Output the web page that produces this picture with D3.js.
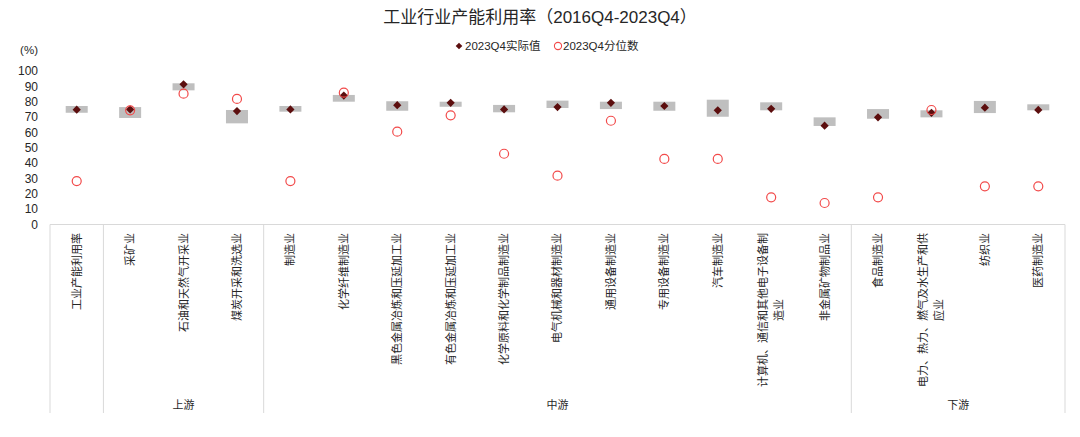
<!DOCTYPE html>
<html>
<head>
<meta charset="utf-8">
<script src="https://cdn.jsdelivr.net/npm/d3@7"></script>
<style>
  body { margin: 0; background: #fff; }
  svg text { font-family: "Liberation Sans", "Noto Sans CJK SC", sans-serif; fill: #262626; }
</style>
</head>
<body>
<div id="chart"></div>
<script>
// categories (x axis) and groups
var categories = ["工业产能利用率", "采矿业", "石油和天然气开采业", "煤炭开采和洗选业", "制造业",
  "化学纤维制造业", "黑色金属冶炼和压延加工业", "有色金属冶炼和压延加工业", "化学原料和化学制品制造业",
  "电气机械和器材制造业", "通用设备制造业", "专用设备制造业", "汽车制造业",
  "计算机、通信和其他电子设备制造业", "非金属矿物制品业", "食品制造业",
  "电力、热力、燃气及水生产和供应业", "纺织业", "医药制造业"];
var groups = [
  { name: "上游", from: 1, to: 3 },
  { name: "中游", from: 4, to: 14 },
  { name: "下游", from: 15, to: 18 }
];
// grey range bars (2016Q4-2023Q4)
var rangeLow  = [72.8, 69.4, 87.4, 65.9, 73.5, 80.0, 74.1, 76.7, 73.1, 75.9, 75.2, 74.1, 70.2, 74.4, 64.2, 68.9, 69.8, 72.6, 74.4];
var rangeHigh = [77.2, 76.5, 92.0, 74.6, 77.2, 84.4, 80.3, 80.0, 77.9, 80.7, 80.0, 80.0, 81.3, 79.6, 69.8, 75.2, 74.4, 80.5, 78.3];
// 2023Q4 实际值
var actual = [74.8, 75.0, 91.3, 73.9, 75.0, 84.0, 77.7, 79.3, 75.0, 76.5, 79.3, 77.2, 74.4, 75.4, 64.4, 69.8, 72.8, 76.1, 74.6];
// 2023Q4 分位数
var pctile = [28.3, 74.4, 85.2, 81.8, 28.3, 85.9, 60.5, 71.1, 46.1, 31.8, 67.6, 42.7, 42.7, 17.7, 14.0, 17.7, 74.6, 24.9, 24.9];
var yTicks = [0, 10, 20, 30, 40, 50, 60, 70, 80, 90, 100];

// label line breaks like the original
var labelLines = {
  "计算机、通信和其他电子设备制造业": ["计算机、通信和其他电子设备制", "造业"],
  "电力、热力、燃气及水生产和供应业": ["电力、热力、燃气及水生产和供", "应业"]
};

var W = 1080, H = 437;
var left = 50, right = 1065, axisY = 224.5, bottom = 413;

var svg = d3.select("#chart").append("svg").attr("width", W).attr("height", H);

var x = d3.scaleBand().domain(d3.range(categories.length)).range([left, right]).padding(0);
var y = d3.scaleLinear().domain([0, 100]).range([axisY, 71]);

// title
svg.append("text").attr("x", 540).attr("y", 23).attr("text-anchor", "middle")
  .style("font-size", "17px").text("工业行业产能利用率（2016Q4-2023Q4）");

// legend
var leg = svg.append("g");
leg.append("path").attr("d", d3.symbol().type(d3.symbolSquare).size(22)())
  .attr("transform", "translate(459,46) rotate(45)").attr("fill", "#5c0e0e");
leg.append("text").attr("x", 465).attr("y", 50).style("font-size", "11.5px").text("2023Q4实际值");
leg.append("circle").attr("cx", 558).attr("cy", 46).attr("r", 3.6)
  .attr("fill", "none").attr("stroke", "#f24a4a").attr("stroke-width", 1.1);
leg.append("text").attr("x", 563).attr("y", 50).style("font-size", "11.5px").text("2023Q4分位数");

// y axis (labels only)
svg.append("text").attr("x", 38).attr("y", 54).attr("text-anchor", "end")
  .style("font-size", "11.5px").text("(%)");
var yAxis = d3.axisLeft(y).tickValues(yTicks).tickSize(0).tickPadding(0);
var gy = svg.append("g").attr("transform", "translate(38,0)").call(yAxis);
gy.select(".domain").remove();
gy.selectAll("text").style("font-size", "12px").attr("fill", "#262626")
  .style("font-family", "'Liberation Sans', sans-serif");

// x axis line and separators
svg.append("line").attr("x1", left).attr("x2", right).attr("y1", axisY).attr("y2", axisY)
  .attr("stroke", "#d9d9d9").attr("stroke-width", 1.2);
var seps = [0, 1, 4, 15, categories.length];
svg.selectAll("line.sep").data(seps).enter().append("line").attr("class", "sep")
  .attr("x1", function(d){ return d === categories.length ? right : x(d); })
  .attr("x2", function(d){ return d === categories.length ? right : x(d); })
  .attr("y1", axisY).attr("y2", bottom)
  .attr("stroke", "#d9d9d9").attr("stroke-width", 1);

// category labels, rotated
var bw = x.bandwidth();
categories.forEach(function(c, i){
  var cx = x(i) + bw / 2;
  var lines = labelLines[c] || [c];
  var g = svg.append("g").attr("transform", "translate(" + cx + ",233) rotate(-90)");
  if (lines.length === 1) {
    g.append("text").attr("x", 0).attr("y", 0).attr("dy", "0.36em")
      .attr("text-anchor", "end").style("font-size", "11px").text(lines[0]);
  } else {
    var t1 = g.append("text").attr("x", 0).attr("y", -8).attr("dy", "0.36em")
      .attr("text-anchor", "end").style("font-size", "11px").text(lines[0]);
    var len = t1.node().getComputedTextLength();
    g.append("text").attr("x", -len / 2).attr("y", 8).attr("dy", "0.36em")
      .attr("text-anchor", "middle").style("font-size", "11px").text(lines[1]);
  }
});

// group labels
groups.forEach(function(gr){
  var gx = (x(gr.from) + x(gr.to) + bw) / 2;
  svg.append("text").attr("x", gx).attr("y", 409).attr("text-anchor", "middle")
    .style("font-size", "11px").text(gr.name);
});

// range bars
var barW = 22;
svg.append("g").selectAll("rect").data(categories).enter().append("rect")
  .attr("x", function(d, i){ return x(i) + bw / 2 - barW / 2; })
  .attr("y", function(d, i){ return y(rangeHigh[i]); })
  .attr("width", barW)
  .attr("height", function(d, i){ return y(rangeLow[i]) - y(rangeHigh[i]); })
  .attr("fill", "#bfbfbf");

// actual value diamonds
var diamond = d3.symbol().type(d3.symbolSquare).size(34)();
svg.append("g").selectAll("path").data(actual).enter().append("path")
  .attr("d", diamond)
  .attr("transform", function(d, i){ return "translate(" + (x(i) + bw / 2) + "," + y(d) + ") rotate(45)"; })
  .attr("fill", "#5c0e0e");

// percentile circles
svg.append("g").selectAll("circle").data(pctile).enter().append("circle")
  .attr("cx", function(d, i){ return x(i) + bw / 2; })
  .attr("cy", function(d){ return y(d); })
  .attr("r", 4.5)
  .attr("fill", "none").attr("stroke", "#f24a4a").attr("stroke-width", 1.2);
</script>
</body>
</html>
